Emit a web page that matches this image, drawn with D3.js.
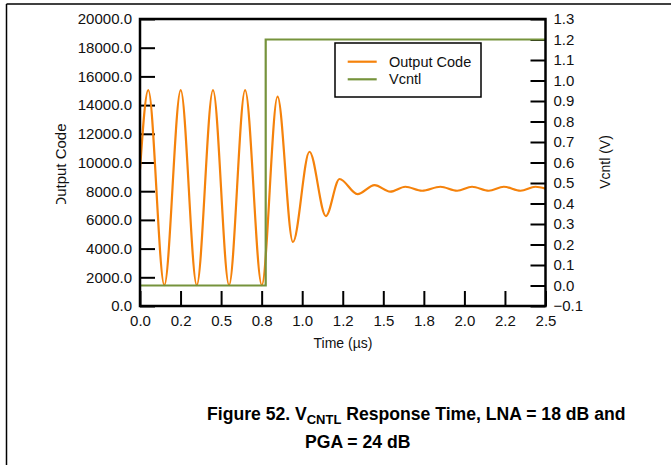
<!DOCTYPE html>
<html>
<head>
<meta charset="utf-8">
<script src="https://cdn.jsdelivr.net/npm/d3@7"></script>
<style>
  body { margin: 0; background: #fff; }
  svg { font-family: "Liberation Sans", Arial, sans-serif; }
</style>
</head>
<body>
<svg width="671" height="465"></svg>
<script>
// Output Code trace (time in µs, code), read at peaks / troughs
const codeTime = [0, 0.051, 0.15, 0.251, 0.35, 0.45, 0.549, 0.648, 0.751,
  0.848, 0.943, 1.045, 1.146, 1.23, 1.341, 1.446, 1.543, 1.636, 1.739,
  1.852, 1.955, 2.047, 2.15, 2.243, 2.346, 2.438, 2.5];
const codeValue = [9500, 15050, 1460, 15050, 1460, 15050, 1460, 15050, 1460,
  14590, 4460, 10750, 6270, 8850, 7800, 8430, 7970, 8310, 8030,
  8310, 8030, 8310, 8030, 8310, 8030, 8310, 8180];

// Vcntl step
const vcntlTime = [0, 0.775, 0.775, 2.5];
const vcntlVolts = [0, 0, 1.2, 1.2];

const xTicks = [0, 0.25, 0.5, 0.75, 1, 1.25, 1.5, 1.75, 2, 2.25, 2.5];
const xTickLabels = ["0.0", "0.2", "0.5", "0.8", "1.0", "1.2", "1.5", "1.8", "2.0", "2.2", "2.5"];
const leftTicks = d3.range(0, 20001, 2000);
const rightTicks = d3.range(-1, 14).map(d => d / 10);

const svg = d3.select("svg");
const x0 = 140, x1 = 545.5, y0 = 306, y1 = 19;

// page frame lines
svg.append("line").attr("x1", 6.5).attr("x2", 671).attr("y1", 4).attr("y2", 4)
  .attr("stroke", "#000").attr("stroke-width", 1.5);
svg.append("line").attr("x1", 6.5).attr("x2", 6.5).attr("y1", 4).attr("y2", 465)
  .attr("stroke", "#000").attr("stroke-width", 1.5);

const x = d3.scaleLinear().domain([0, 2.5]).range([x0, x1]);
const yL = d3.scaleLinear().domain([0, 20000]).range([y0, y1]);
const yR = d3.scaleLinear().domain([-0.1, 1.3]).range([y0, y1]);

function styleAxis(g) {
  g.select(".domain").remove();
  g.selectAll(".tick line").attr("stroke", "#000").attr("stroke-width", 2);
  g.selectAll(".tick text").attr("fill", "#111").style("font-size", "15px");
}

svg.append("g").attr("transform", `translate(${x0},0)`)
  .call(d3.axisLeft(yL).tickValues(leftTicks).tickFormat(d3.format(".1f"))
    .tickSizeInner(-15).tickSizeOuter(0).tickPadding(8))
  .call(styleAxis);

svg.append("g").attr("transform", `translate(${x1},0)`)
  .call(d3.axisRight(yR).tickValues(rightTicks).tickFormat(d3.format(".1f"))
    .tickSizeInner(-15).tickSizeOuter(0).tickPadding(8))
  .call(styleAxis);

svg.append("g").attr("transform", `translate(0,${y0})`)
  .call(d3.axisBottom(x).tickValues(xTicks).tickFormat((d, i) => xTickLabels[i])
    .tickSizeInner(-15).tickSizeOuter(0).tickPadding(9))
  .call(styleAxis);

// series
const codeLine = d3.line().x((d, i) => x(codeTime[i])).y(d => yL(d)).curve(d3.curveMonotoneX);
svg.append("path").attr("d", codeLine(codeValue))
  .attr("fill", "none").attr("stroke", "#f5820b").attr("stroke-width", 2.2);

const vLine = d3.line().x((d, i) => x(vcntlTime[i])).y(d => yR(d));
svg.append("path").attr("d", vLine(vcntlVolts))
  .attr("fill", "none").attr("stroke", "#76933c").attr("stroke-width", 2.2);

// plot frame
svg.append("rect").attr("x", x0).attr("y", y1).attr("width", x1 - x0).attr("height", y0 - y1)
  .attr("fill", "none").attr("stroke", "#000").attr("stroke-width", 2.5);

// axis titles (left one is cut off at the bottom, like the source image)
svg.append("defs").append("clipPath").attr("id", "clipL")
  .append("rect").attr("x", 0).attr("y", 0).attr("width", 140).attr("height", 204);
svg.append("g").attr("clip-path", "url(#clipL)")
  .append("text")
  .attr("transform", "translate(65.5,166) rotate(-90)")
  .attr("text-anchor", "middle").style("font-size", "15px").attr("fill", "#111")
  .text("Output Code");
svg.append("text").attr("transform", "translate(610,162) rotate(-90)")
  .attr("text-anchor", "middle").style("font-size", "14px").attr("fill", "#111")
  .text("Vcntl (V)");
svg.append("text").attr("x", 343).attr("y", 348).attr("text-anchor", "middle")
  .style("font-size", "14px").attr("fill", "#111").text("Time (µs)");

// legend
const lg = svg.append("g");
lg.append("rect").attr("x", 335).attr("y", 43).attr("width", 146).attr("height", 54)
  .attr("fill", "#fff").attr("stroke", "#000").attr("stroke-width", 1.5);
const legendItems = [["Output Code", "#f5820b"], ["Vcntl", "#76933c"]];
legendItems.forEach(([name, color], i) => {
  const yy = 61.7 + i * 17.6;
  lg.append("line").attr("x1", 347.7).attr("x2", 376.7).attr("y1", yy).attr("y2", yy)
    .attr("stroke", color).attr("stroke-width", 2.2);
  lg.append("text").attr("x", 389).attr("y", yy + 5).style("font-size", "14.5px")
    .attr("fill", "#111").text(name);
});

// caption
const cap = svg.append("g").style("font-weight", "bold").attr("fill", "#000");
const t1 = cap.append("text").attr("x", 207).attr("y", 420).style("font-size", "17.6px");
t1.append("tspan").text("Figure 52. V");
t1.append("tspan").attr("dy", 4).style("font-size", "13px").text("CNTL");
t1.append("tspan").attr("dy", -4).text(" Response Time, LNA = 18 dB and");
cap.append("text").attr("x", 305).attr("y", 448).style("font-size", "17.6px").text("PGA = 24 dB");
</script>
</body>
</html>
